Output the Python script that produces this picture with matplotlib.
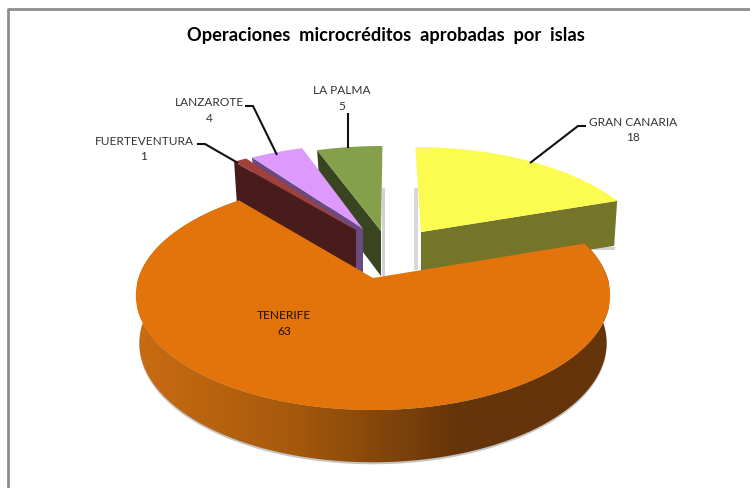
import numpy as np
import matplotlib
matplotlib.use("Agg")
import matplotlib.pyplot as plt
from matplotlib.patches import Polygon
from matplotlib.colors import LinearSegmentedColormap

plt.rcParams['font.family'] = ['Lato', 'DejaVu Sans']

title = "Operaciones  microcréditos  aprobadas  por  islas"
islands = ["GRAN CANARIA", "TENERIFE", "FUERTEVENTURA", "LANZAROTE", "LA PALMA"]
values = [18, 63, 1, 4, 5]
top_colors = ["#FCFC50", "#E3730B", "#A0403D", "#DD99FB", "#84A04A"]
side_colors = ["#75752A", "#66340A", "#481C1A", "#6A4A80", "#384520"]
tips = [(421, 232), (373, 278), (356, 230), (363, 229), (381, 231)]
widths = [224, 234.5, 232, 232, 232]

fig = plt.figure(figsize=(7.5, 4.88), dpi=100)
ax = fig.add_axes([0, 0, 1, 1])
ax.set_xlim(0, 750)
ax.set_ylim(488, 0)
ax.axis("off")

total = sum(values)
edges = np.concatenate([[0], np.cumsum(values)]) / total * 360.0
VANISH_X = 389.0


def project(deg, i):
    tip = tips[i]
    b = widths[i]
    th = np.radians(deg)
    u, v = np.sin(th), np.cos(th)
    if i == 1:
        a, k = 112.2, 0.15
        return tip[0] + b * u / (1 + k * v), tip[1] - a * v / (1 + k * v)
    a, k = 103.4, 0.2166
    return VANISH_X + (tip[0] - VANISH_X + b * u) / (1 + k * v), tip[1] - a * v / (1 + k * v)


def top_poly(i):
    th = np.linspace(edges[i], edges[i + 1], 120)
    x, y = project(th, i)
    return np.r_[tips[i][0], x], np.r_[tips[i][1], y]


def cut_face(i, which, depth=45):
    ang = edges[i + which]
    x, y = project(ang, i)
    tx, ty = tips[i]
    return [(tx, ty), (x, y), (x - np.sign(x - tx) * 3, y + depth), (tx, ty + depth)]


# frame
ax.plot([8, 8, 750], [488, 9, 9], color="#8E8E8E", lw=2, solid_capstyle="butt", zorder=1)

# soft shadows of exploded slices
ax.add_patch(Polygon([(382, 188), (384.5, 188), (384.5, 277), (382, 277)], fc="#D2D2D2", ec="none", zorder=2))
ax.add_patch(Polygon([(414, 188), (418, 188), (418, 270), (414, 270)], fc="#D8D8D8", ec="none", zorder=2))
ax.add_patch(Polygon([(606, 247), (616, 247), (614, 250), (590, 250)], fc="#D2D2D2", ec="none", zorder=2))

# painter's order: back-most slices first
zo = 3
for i in [0, 4, 3, 2]:
    which = 1 if i == 0 else 0
    ax.add_patch(Polygon(cut_face(i, which), fc=side_colors[i], ec="none", zorder=zo))
    px, py = top_poly(i)
    ax.add_patch(Polygon(np.c_[px, py], fc=top_colors[i], ec="none", zorder=zo + 0.5))
    zo += 1

# Tenerife: curved outer wall with a horizontal gradient
th = np.linspace(edges[1], edges[2], 400)
tx, ty = project(th, 1)
sx = tips[1][0] + (tx - tips[1][0]) * 0.985
sy = tips[1][1] + (ty - tips[1][1]) * 1.04 + 47
wall = np.r_[np.c_[tx, ty], np.c_[sx, sy][::-1]]

ax.add_patch(Polygon(np.r_[np.c_[sx, sy + 2], [[373, 300]]], fc="#C4C4C4", ec="none", zorder=7))

cmap = LinearSegmentedColormap.from_list(
    "wall", [(0.0, "#C86C12"), (0.32, "#A85A0C"), (0.53, "#80450A"), (0.68, "#66340A"), (1.0, "#66340A")]
)
grad = ax.imshow(np.linspace(0, 1, 256)[None, :], extent=(137, 609, 488, 150), cmap=cmap,
                 aspect="auto", zorder=8, vmin=0, vmax=1)
clip = Polygon(wall, transform=ax.transData, fc="none", ec="none")
ax.add_patch(clip)
grad.set_clip_path(clip)

px, py = top_poly(1)
ax.add_patch(Polygon(np.c_[px, py], fc=top_colors[1], ec="none", zorder=9))
ax.set_xlim(0, 750)
ax.set_ylim(488, 0)

# leaders
leaders = {
    "GRAN CANARIA": [(530, 163), (578, 126), (586, 126)],
    "LA PALMA": [(348, 148), (348, 113)],
    "LANZAROTE": [(277, 155), (253, 106), (245, 106)],
    "FUERTEVENTURA": [(238, 163), (205, 144), (197, 144)],
}
for pts in leaders.values():
    xs, ys = zip(*pts)
    ax.plot(xs, ys, color="#111111", lw=1.5, zorder=10, solid_capstyle="butt")

# labels
label_pos = {
    "GRAN CANARIA": (633, 130),
    "TENERIFE": (284, 323.5),
    "FUERTEVENTURA": (144, 149),
    "LANZAROTE": (209, 110.5),
    "LA PALMA": (342, 98.5),
}
for name, val in zip(islands, values):
    x, y = label_pos[name]
    ax.text(x, y, f"{name}\n{val}", ha="center", va="center", fontsize=8.6, linespacing=1.5,
            color="#1A1208" if name == "TENERIFE" else "#333333", zorder=11)

ax.text(386, 36, title, ha="center", va="center", fontsize=13.15, fontweight="bold", color="black", zorder=11)

fig.savefig("out.png", dpi=100)
